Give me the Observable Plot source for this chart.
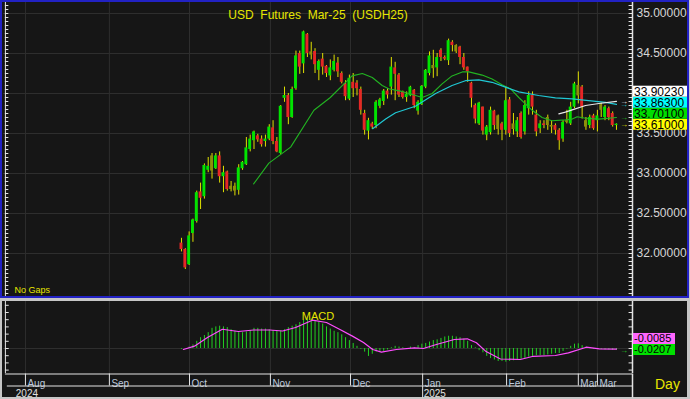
<!DOCTYPE html>
<html>
<head>
<meta charset="utf-8">
<script src="https://cdn.jsdelivr.net/npm/d3@7"></script>
<script src="https://cdn.jsdelivr.net/npm/@observablehq/plot@0.6"></script>
<style>
  html,body{margin:0;padding:0}
  body{width:690px;height:399px;background:#c6c6c6;position:relative;overflow:hidden;font-family:Arial,"Liberation Sans",sans-serif}
  #main{position:absolute;left:0;top:0;width:685px;height:294px;border:2px solid #2222c4;background:#161616}
  #lower{position:absolute;left:2px;top:301px;width:685px;height:96px;background:#161616}
  #macd{position:absolute;left:0;top:0}
  #axis{position:absolute;left:0;top:72px}
  #day{position:absolute;left:655px;top:375px;color:#e8e800;font-size:14px;line-height:18px}
  svg{display:block;overflow:visible}
</style>
</head>
<body>
<div id="main"></div>
<div id="lower"><div id="macd"></div><div id="axis"></div></div>
<div id="day">Day</div>
<script>
// ---------- data ----------
const titleText = "USD\u00a0 Futures\u00a0 Mar-25\u00a0 (USDH25)";
const candleOpen = [32.13,32.05,31.86,32.25,32.40,32.77,32.71,33.04,33.22,33.06,
 33.22,32.96,33.02,32.80,32.84,32.79,33.06,33.11,33.30,33.41,
 33.47,33.43,33.40,33.43,33.57,33.40,33.25,33.94,33.975,33.70,
 34.06,34.50,34.37,34.74,34.52,34.525,34.29,34.43,34.34,34.22,
 34.29,34.38,34.25,34.12,33.93,34.14,34.13,34.05,33.75,33.53,
 33.62,33.60,33.84,33.90,34.03,34.08,34.32,34.23,34.02,33.95,
 33.97,34.04,33.78,33.86,34.08,34.25,34.31,34.32,34.54,34.45,
 34.41,34.64,34.60,34.58,34.45,34.33,34.13,33.85,33.62,33.83,
 33.48,33.51,33.78,33.72,33.62,33.54,33.92,33.55,33.52,33.75,
 33.52,33.81,33.975,33.73,33.56,33.62,33.70,33.60,33.60,33.54,
 33.43,33.66,33.62,33.83,34.10,34.08,33.66,33.60,33.72,33.66,
 33.79,33.70,33.81,33.75,33.60];
const candleHigh = [32.19,32.06,32.27,32.43,32.78,32.88,33.12,33.20,33.25,33.25,
 33.27,33.09,33.03,32.90,32.88,33.11,33.15,33.45,33.48,33.53,
 33.49,33.47,33.48,33.61,33.66,33.45,33.85,34.08,34.00,34.08,
 34.53,34.53,34.78,34.75,34.64,34.56,34.42,34.50,34.35,34.42,
 34.48,34.45,34.27,34.16,34.23,34.25,34.16,34.08,33.79,33.69,
 33.64,33.91,33.94,34.05,34.06,34.45,34.39,34.25,34.03,34.02,
 34.09,34.05,33.91,34.10,34.30,34.52,34.54,34.50,34.56,34.47,
 34.68,34.66,34.61,34.59,34.50,34.33,34.14,33.87,33.89,33.83,
 33.60,33.83,33.79,33.73,33.64,34.08,33.95,33.75,33.70,33.77,
 33.91,34.02,34.02,33.79,33.66,33.66,33.73,33.66,33.62,33.56,
 33.66,33.79,33.89,34.14,34.27,34.10,33.70,33.73,33.74,33.79,
 33.88,33.85,33.83,33.77,33.62];
const candleLow = [32.02,31.80,31.85,32.14,32.38,32.55,32.68,33.01,32.93,33.05,
 32.88,32.76,32.78,32.77,32.72,32.73,33.04,33.10,33.27,33.30,
 33.39,33.33,33.33,33.41,33.36,33.26,33.24,33.89,33.61,33.69,
 34.04,34.24,34.25,34.45,34.42,34.25,34.16,34.23,34.20,34.16,
 34.27,34.20,34.12,33.91,33.91,33.95,33.97,33.73,33.48,33.42,
 33.55,33.56,33.81,33.85,33.93,33.98,33.91,33.95,33.93,33.89,
 33.96,33.81,33.73,33.85,34.06,34.22,34.19,34.21,34.40,34.41,
 34.35,34.52,34.50,34.36,34.29,34.14,33.82,33.62,33.60,33.48,
 33.41,33.48,33.54,33.48,33.41,33.48,33.45,33.48,33.45,33.43,
 33.48,33.73,33.73,33.46,33.50,33.56,33.54,33.50,33.48,33.29,
 33.39,33.62,33.60,33.81,33.87,33.68,33.54,33.56,33.54,33.52,
 33.70,33.66,33.66,33.58,33.54];
const candleClose = [32.05,31.82,32.22,32.42,32.76,32.69,33.10,33.09,33.03,33.22,
 32.96,33.01,32.80,32.84,32.78,33.07,33.14,33.32,33.43,33.52,
 33.42,33.36,33.43,33.58,33.40,33.27,33.84,33.975,33.70,34.05,
 34.47,34.33,34.77,34.50,34.48,34.36,34.40,34.33,34.25,34.32,
 34.40,34.27,34.14,33.96,34.19,34.06,34.06,33.79,33.54,33.66,
 33.58,33.89,33.92,34.03,33.98,34.33,34.24,33.98,33.95,33.99,
 34.08,33.85,33.89,34.09,34.29,34.47,34.35,34.45,34.45,34.43,
 34.66,34.60,34.52,34.45,34.32,34.27,33.94,33.68,33.88,33.53,
 33.58,33.79,33.60,33.55,33.54,33.91,33.50,33.62,33.66,33.45,
 33.85,33.975,33.83,33.52,33.62,33.60,33.60,33.58,33.54,33.41,
 33.64,33.64,33.83,34.12,33.97,33.83,33.58,33.70,33.56,33.72,
 33.86,33.83,33.70,33.60,33.61];
// g = up, r = down, o = neutral (olive) candle
const candleTone = ("rrgggrggog" + "rgrooggggg" + "rrggrrggrg" + "grgrorgrrg" + "grrrgrrrrg" +
 "rgggrgrrrg" + "grggggogrr" + "grorrrrrgr" + "ggrorgrogr" + "ggrrgroorr" + "goggorogrg" + "ogrrg").split("");

// moving averages (slot = bar number, first bar = 0)
const ma20Slot = [18.9,22.9,28.6,34.7,39,44.7,47.4,50,52.6,54.3,57.4,59.6,63.1,65.7,68.3,70.9,73.6,75.3,78.8,81.4,84,86.2,88.4,91.9,94.5,97.1,100.6,102.4,103.7,105.9,109.4,114];
const ma20Val  = [32.87,33.13,33.33,33.79,33.95,34.22,34.25,34.20,34.10,34.06,34.03,34.00,33.95,34.00,34.12,34.22,34.27,34.27,34.23,34.18,34.11,34.06,33.95,33.79,33.70,33.66,33.67,33.68,33.71,33.69,33.68,33.70];
const ma50Slot = [50.1,53.5,56.1,61.3,66.6,70.9,74.4,77.9,81.4,84.9,88.4,93.6,98,102.4,106.7,111.1,114];
const ma50Val  = [33.56,33.68,33.76,33.84,34.00,34.10,34.16,34.17,34.14,34.08,34.02,33.975,33.946,33.933,33.91,33.89,33.865];
const ma100Slot = [98.9,100.6,102.4,105.9,109.4,114];
const ma100Val  = [33.746,33.767,33.796,33.85,33.875,33.902];

// last-value labels
const lastValues = [33.9023, 33.863, 33.701, 33.61];
const lastLabels = ["33.90230", "33.86300", "33.70100", "33.61000"];

// MACD
const sigSlot = [0.5,3.4,6.8,10.7,14.9,18.9,23.1,26.5,29.9,34.3,38,41.4,44.8,47.7,50.1,52.4,56.3,61.1,63.4,66.8,71.5,74.9,77.3,79.7,83.6,88.8,92.2,98,101.4,106.1,109.5,114];
const sigVal  = [-0.014,0.032,0.153,0.267,0.236,0.257,0.257,0.243,0.292,0.393,0.361,0.267,0.172,0.083,-0.014,-0.051,-0.014,0.010,0.0,0.056,0.125,0.135,0.079,-0.037,-0.146,-0.153,-0.108,-0.097,-0.061,0.018,-0.004,-0.0085];
const macdHist = [-0.01,0.0,0.02,0.05, 0.10, 0.15,0.18, 0.22, 0.28,0.30,0.31, 0.30,0.29,0.26,
 0.24,0.22,0.22,0.23,0.25, 0.28,0.28,0.27,0.27, 0.26,0.25,0.24,0.24,0.26, 0.29,0.31,0.33,
 0.36,0.39,0.41, 0.41,0.39,0.37,0.34, 0.30,0.27,0.24,0.22,0.19, 0.15,0.11,0.07, 0.03,-0.01,-0.05,
 -0.11,-0.08, -0.05,-0.04,-0.04,-0.02, 0.01,0.03,0.02,0.01,0.00,0.02,0.01, 0.04,0.06,0.07,0.09,
 0.11,0.12,0.14,0.16,0.17,0.17, 0.16,0.15,0.13,0.10, 0.04,0.01,-0.03,-0.06,
 -0.11,-0.14,-0.16,-0.18,-0.18, -0.19,-0.18,-0.17,-0.16,-0.15,-0.14,
 -0.12,-0.11,-0.10,-0.10,-0.10,-0.09,-0.08,-0.07,-0.07, -0.04,-0.01,0.03,0.06,0.065,
 0.04,0.02,0.00,-0.01,-0.01, -0.015,-0.02,-0.02,-0.025,-0.0207];
const macdLastValues = [-0.0085, -0.0207];
const macdLastLabels = ["-0.0085", "-0.0207"];

// axis
const priceTicks = [32, 32.5, 33, 33.5, 34, 34.5, 35];
const monthLabels = ["Aug","Sep","Oct","Nov","Dec","Jan","Feb","Mar","Mar"];
const monthSlots = [-40.9,-18.9,2.1,23.3,44.3,63.2,85.2,104.0,109.0];
const yearLabels = ["2024","2025"];
const yearSlots = [-43.7,63.2];

// ---------- drawing ----------
const xStart = -46.65, xEnd = 118.2;
const toneColor = {g:"#00e400", r:"#e62626", o:"#8f8f0a"};
const wickColor = "#e0e000";
const gridColor = "#2e2e2e";
const axisColor = "#e4e4e4";
const fontFam = "Arial, 'Liberation Sans', sans-serif";
const candles = candleOpen.map((o,i)=>({i, o, h:candleHigh[i], l:candleLow[i], c:candleClose[i], t:candleTone[i]}));
const n = candles.length;
const arrowX = n - 1 + 2;
const pts = (s, v) => s.map((x,k)=>({x, y:v[k]}));
const lastColors = ["#ffffff","#00ffff","#00dd00","#ffff00"];
const lineColors = ["#e8e8e8","#20c8d4","#22b422","#e0e000"];
const minorPrice = d3.range(31.5, 35.1001, 0.05);
const minorMacd = d3.range(-0.3, 0.6501, 0.1);
const tickText = d => d.toFixed(5);

const main = Plot.plot({
  width: 685, height: 294,
  marginLeft: 1, marginRight: 55, marginTop: 0, marginBottom: 0,
  x: {domain: [xStart, xEnd], axis: null},
  y: {domain: [31.4625, 35.1375], axis: null},
  color: {type: "identity"},
  style: {background: "none", fontFamily: fontFam, overflow: "visible"},
  marks: [
    Plot.ruleY(priceTicks, {stroke: gridColor}),
    Plot.ruleX(monthSlots, {stroke: gridColor}),
    Plot.ruleX([xStart + 0.5], {stroke: axisColor}),
    Plot.ruleY(minorPrice, {x1: xStart + 0.5, x2: xStart + 1.4, stroke: axisColor}),
    Plot.ruleY(minorPrice, {x1: xEnd - 0.9, x2: xEnd, stroke: axisColor}),
    Plot.ruleX([xEnd], {stroke: axisColor, strokeWidth: 1.5}),
    Plot.ruleX(candles, {x: "i", y1: "l", y2: "h", stroke: wickColor}),
    Plot.rect(candles, {x1: d => d.i - 0.38, x2: d => d.i + 0.38,
      y1: d => Math.min(d.o, d.c), y2: d => Math.max(d.o, d.c, Math.min(d.o, d.c) + 0.016),
      fill: d => toneColor[d.t]}),
    Plot.line(pts(ma20Slot, ma20Val), {x: "x", y: "y", stroke: "#22b422", strokeWidth: 1.1}),
    Plot.line(pts(ma50Slot, ma50Val), {x: "x", y: "y", stroke: "#20c8d4", strokeWidth: 1.2}),
    Plot.line(pts(ma100Slot, ma100Val), {x: "x", y: "y", stroke: "#e8e8e8", strokeWidth: 1.2}),
    Plot.text(lastValues, {x: arrowX, y: d => d, text: () => "\u2192", fill: (d,i) => lineColors[i], fontSize: 8, fontWeight: "bold"}),
    Plot.text(priceTicks, {x: xEnd, y: d => d, text: tickText, dx: 4, textAnchor: "start", fill: "#d6d6d6", fontSize: 12}),
    Plot.text([titleText], {frameAnchor: "top", dy: 8, text: d => d, fill: "#e6e600", fontSize: 12}),
    Plot.text(["No Gaps"], {frameAnchor: "bottom-left", dx: 11, dy: -4, textAnchor: "start", text: d => d, fill: "#e6e600", fontSize: 9})
  ]
});
document.getElementById("main").appendChild(main);

const macd = Plot.plot({
  width: 685, height: 72,
  marginLeft: 1, marginRight: 55, marginTop: 0, marginBottom: 0,
  x: {domain: [xStart, xEnd], axis: null},
  y: {domain: [-25/72, 47/72], axis: null},
  color: {type: "identity"},
  style: {background: "none", fontFamily: fontFam, overflow: "visible"},
  marks: [
    Plot.ruleY([0], {stroke: gridColor}),
    Plot.ruleX(monthSlots, {stroke: gridColor}),
    Plot.ruleX([xStart + 0.5], {stroke: axisColor}),
    Plot.ruleY(minorMacd, {x1: xStart + 0.5, x2: xStart + 1.5, stroke: axisColor}),
    Plot.ruleY(minorMacd, {x1: xEnd - 0.9, x2: xEnd, stroke: axisColor}),
    Plot.ruleX([xEnd], {stroke: axisColor, strokeWidth: 1.5}),
    Plot.ruleX(macdHist, {x: (d,i) => i, y1: 0, y2: d => d, stroke: "#22d022"}),
    Plot.line(pts(sigSlot, sigVal), {x: "x", y: "y", stroke: "#ff4cff", strokeWidth: 1.2}),
    Plot.text(macdLastValues.slice(1), {x: arrowX, y: d => d, text: () => "\u2192", fill: "#22cc22", fontSize: 8, fontWeight: "bold"}),
    Plot.text(["MACD"], {frameAnchor: "top", dy: 11, text: d => d, fill: "#e6e600", fontSize: 11})
  ]
});
document.getElementById("macd").appendChild(macd);

const axisPlot = Plot.plot({
  width: 685, height: 24,
  marginLeft: 1, marginRight: 55, marginTop: 0, marginBottom: 0,
  x: {domain: [xStart, xEnd], axis: null},
  y: {domain: [0, 2], range: [0.5, 24.5], axis: null},
  style: {background: "none", fontFamily: fontFam, overflow: "visible"},
  marks: [
    Plot.text(monthLabels, {x: (d,i) => monthSlots[i], y: 1, text: d => d, dx: 2, dy: 1, textAnchor: "start", lineAnchor: "bottom", fill: "#bcc8dc", fontSize: 10}),
    Plot.text(yearLabels, {x: (d,i) => yearSlots[i], y: 2, text: d => d, dx: 1, dy: -1, textAnchor: "start", lineAnchor: "bottom", fill: "#e0e0e0", fontSize: 10}),
    Plot.ruleY([0], {x1: xStart + 0.5, x2: xEnd, stroke: axisColor}),
    Plot.ruleY([1], {x1: xStart + 1, x2: xEnd, stroke: axisColor}),
    Plot.ruleX(monthSlots, {y1: 0, y2: 1, stroke: axisColor}),
    Plot.ruleX([yearSlots[1]], {y1: 1, y2: 2, stroke: axisColor}),
    Plot.ruleX([xEnd], {y1: 0, y2: 2, stroke: axisColor, strokeWidth: 1.5})
  ]
});
document.getElementById("axis").appendChild(axisPlot);

// value boxes at the right, placed with the plots' own scales and stacked;
// axis labels hidden behind the boxes (as in the reference) are dropped
function scaleFn(plot, name) {
  const s = plot.scale(name);
  return s.apply ? (v => s.apply(v)) : d3.scaleLinear(s.domain, s.range);
}
function valueBoxes(plot, values, labels, colors, w, h, fs, hideSet) {
  const ys = scaleFn(plot, "y"), xs = scaleFn(plot, "x");
  const left = xs(xEnd) + 1;
  let prev = Infinity;
  const order = values.map((v,i)=>i).sort((a,b)=>values[a]-values[b]);
  const pos = [];
  order.forEach(i => {
    const yc = Math.min(ys(values[i]), prev - h);
    prev = yc;
    pos.push({i, yc});
  });
  const covTop = d3.min(pos, p => p.yc) - h/2, covBot = d3.max(pos, p => p.yc) + h/2;
  if (hideSet) {
    const top = plot.getBoundingClientRect().top;
    d3.select(plot).selectAll("text").each(function() {
      if (!hideSet.has(this.textContent)) return;
      const r = this.getBoundingClientRect();
      const c = (r.top + r.bottom) / 2 - top;
      if (c > covTop && c < covBot) this.remove();
    });
  }
  const g = d3.select(plot).append("g").attr("text-anchor", "start");
  pos.forEach(({i, yc}) => {
    g.append("rect").attr("x", left).attr("y", yc - h/2).attr("width", w).attr("height", h).attr("fill", colors[i]);
    g.append("text").attr("x", left + 1).attr("y", yc).attr("dy", "0.36em").attr("text-anchor", "start")
      .attr("font-size", fs).attr("font-family", fontFam).attr("fill", "#000").text(labels[i]);
  });
}
valueBoxes(main, lastValues, lastLabels, lastColors, 54, 11, 12, new Set(priceTicks.map(tickText)));
valueBoxes(macd, macdLastValues, macdLastLabels, ["#ff66ff", "#00e000"], 42, 11, 11, null);
</script>
</body>
</html>
